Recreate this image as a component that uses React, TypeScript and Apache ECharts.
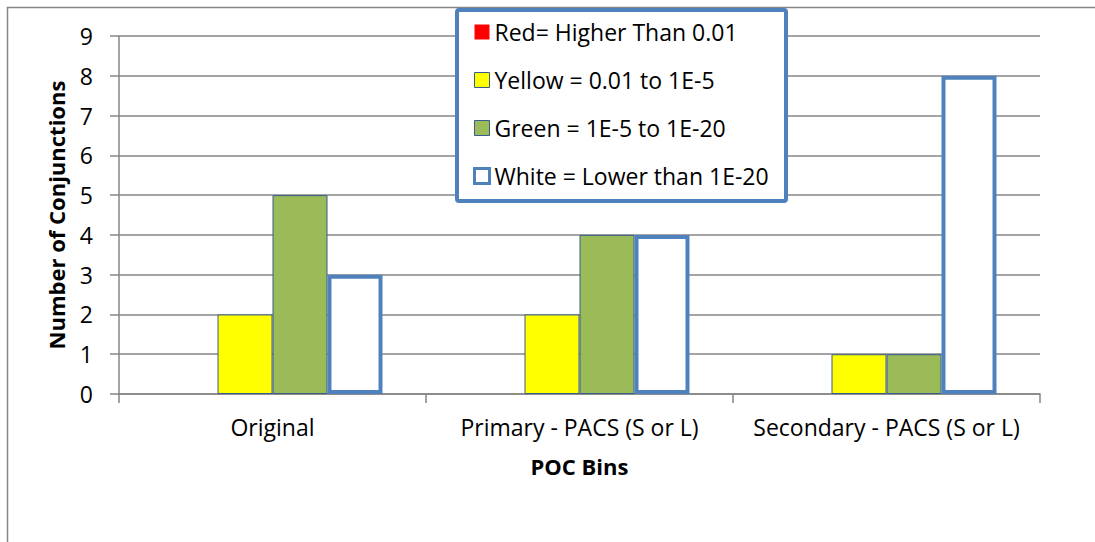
import React, { useEffect, useRef } from "react";
import * as echarts from "echarts";

const categories = ["Original", "Primary - PACS (S or L)", "Secondary - PACS (S or L)"];
const seriesNames = [
  "Red= Higher Than 0.01",
  "Yellow = 0.01 to 1E-5",
  "Green = 1E-5 to 1E-20",
  "White = Lower than 1E-20",
];
const redValues = [0, 0, 0];
const yellowValues = [2, 2, 1];
const greenValues = [5, 4, 1];
const whiteValues = [3, 4, 8];

const FONT = "'Open Sans', 'Noto Sans', sans-serif";
const GRAY = "#868686";
const BLUE = "#4F81BD";
const DARK_BLUE = "#385D8A";

export default function App() {
  const ref = useRef<HTMLDivElement>(null);

  useEffect(() => {
    if (!ref.current) return;
    const chart = echarts.init(ref.current, undefined, { renderer: "svg" });

    const option: any = {
      animation: false,
      backgroundColor: "#ffffff",
      textStyle: { fontFamily: FONT },
      grid: { left: 119, right: 55, top: 36, bottom: 148, containLabel: false },
      graphic: [
        {
          type: "rect",
          z: 1,
          silent: true,
          shape: { x: 7.5, y: 7.5, width: 1300, height: 700 },
          style: { fill: "none", stroke: GRAY, lineWidth: 1.5 },
        },
        {
          type: "rect",
          z: 3,
          silent: true,
          shape: { x: 457, y: 10, width: 329, height: 191, r: 2 },
          style: { fill: "#ffffff", stroke: BLUE, lineWidth: 4 },
        },
      ],
      legend: {
        orient: "vertical",
        left: 473,
        top: 20,
        padding: 0,
        z: 5,
        itemWidth: 15,
        itemHeight: 15,
        itemGap: 24,
        icon: "rect",
        textStyle: { fontFamily: FONT, fontSize: 23, lineHeight: 24, color: "#000" },
        data: [
          { name: seriesNames[0], itemStyle: { borderWidth: 0 } },
          { name: seriesNames[1], itemStyle: { borderColor: DARK_BLUE, borderWidth: 1 } },
          { name: seriesNames[2], itemStyle: { borderColor: DARK_BLUE, borderWidth: 1 } },
          { name: seriesNames[3], itemStyle: { borderColor: BLUE, borderWidth: 3 } },
        ],
      },
      xAxis: {
        type: "category",
        data: categories,
        name: "POC Bins",
        nameLocation: "middle",
        nameGap: 61,
        nameTextStyle: { fontFamily: FONT, fontSize: 22, fontWeight: "bold", color: "#000" },
        axisLine: { show: true, lineStyle: { color: GRAY, width: 1.5 } },
        axisTick: { show: true, length: 9, lineStyle: { color: GRAY, width: 1.5 } },
        axisLabel: { fontFamily: FONT, fontSize: 23, color: "#000", margin: 21, interval: 0 },
        splitLine: { show: false },
      },
      yAxis: {
        type: "value",
        min: 0,
        max: 9,
        interval: 1,
        name: "Number of Conjunctions",
        nameLocation: "middle",
        nameGap: 52,
        nameRotate: 90,
        nameTextStyle: { fontFamily: FONT, fontSize: 22, fontWeight: "bold", color: "#000" },
        axisLine: { show: true, lineStyle: { color: GRAY, width: 1.5 } },
        axisTick: { show: true, length: 9, lineStyle: { color: GRAY, width: 1.5 } },
        axisLabel: { fontFamily: FONT, fontSize: 23, color: "#000", margin: 26 },
        splitLine: { show: true, lineStyle: { color: GRAY, width: 1.5 } },
      },
      series: [
        {
          name: seriesNames[0],
          type: "bar",
          data: redValues,
          barWidth: 55,
          barGap: "0%",
          itemStyle: { color: "#FF0000", borderWidth: 0 },
        },
        {
          name: seriesNames[1],
          type: "bar",
          data: yellowValues,
          barWidth: 55,
          barGap: "0%",
          itemStyle: { color: "#FFFF00", borderColor: DARK_BLUE, borderWidth: 1 },
        },
        {
          name: seriesNames[2],
          type: "bar",
          data: greenValues,
          barWidth: 55,
          barGap: "0%",
          itemStyle: { color: "#9BBB59", borderColor: DARK_BLUE, borderWidth: 1 },
        },
        {
          name: seriesNames[3],
          type: "bar",
          data: whiteValues,
          barWidth: 55,
          barGap: "0%",
          itemStyle: { color: "#FFFFFF", borderColor: BLUE, borderWidth: 4 },
        },
      ],
    };

    chart.setOption(option);
    return () => chart.dispose();
  }, []);

  return <div ref={ref} style={{ width: 1095, height: 542, position: "absolute", left: 0, top: 0 }} />;
}
